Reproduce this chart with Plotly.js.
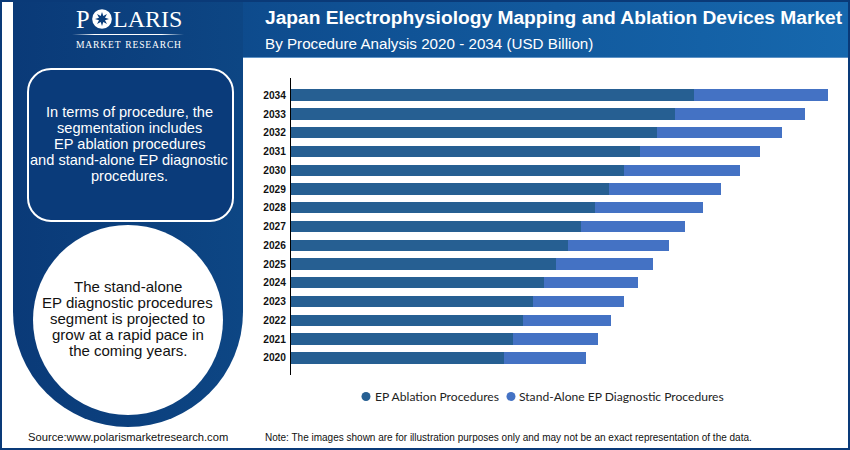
<!DOCTYPE html>
<html><head><meta charset="utf-8">
<script src="https://cdn.plot.ly/plotly-3.0.1.min.js"></script>
<style>
html,body{margin:0;padding:0;background:#fff;}
#stage{position:relative;width:850px;height:450px;overflow:hidden;background:#fff;}
#stage div.d,#stage svg{position:absolute;}
#chart{position:absolute;left:0;top:0;width:850px;height:450px;}
</style></head>
<body>
<div id="stage">
  <div class="d" style="left:0;top:0;width:846px;height:446px;border:2px solid #0a3a78;"></div>
  <div class="d" style="left:13px;top:2px;width:835px;height:56px;background:linear-gradient(90deg,#0a3d7b 0%,#0e4c8e 30%,#1668ae 100%);border-bottom:1px solid #5f93c6;box-sizing:border-box;"></div>
  <div class="d" style="left:13px;top:2px;width:230px;height:425px;background:linear-gradient(90deg,#0a3a78,#0d4684);border-radius:0 0 115px 115px;"></div>
  <div class="d" style="left:26.5px;top:67.5px;width:203px;height:150px;border:2px solid #fff;border-radius:24px;background:#0a3b7a;"></div>
  <div class="d" style="left:33px;top:225px;width:190px;height:190px;background:#fff;border-radius:50%;"></div>
  <div class="d" style="left:72px;top:34px;width:112px;height:1px;background:linear-gradient(90deg,rgba(255,255,255,0),#fff 20%,#fff 80%,rgba(255,255,255,0));"></div>
  <svg style="left:92px;top:9px;" width="20" height="20" viewBox="-10 -10 20 20">
    <circle r="9.8" fill="#fff"/>
    <polygon fill="#0a3d7b" points="0,-7 1.3,-3 5,-5 3,-1.3 7,0 3,1.3 5,5 1.3,3 0,7 -1.3,3 -5,5 -3,1.3 -7,0 -3,-1.3 -5,-5 -1.3,-3"/>
  </svg>
  <div id="chart"></div>
</div>
<script>
const years = ["2020","2021","2022","2023","2024","2025","2026","2027","2028","2029","2030","2031","2032","2033","2034"];
const ablation = [2.13,2.22,2.32,2.42,2.53,2.65,2.77,2.90,3.04,3.18,3.33,3.49,3.66,3.84,4.03];
const diagnostic = [0.815,0.845,0.875,0.91,0.94,0.97,1.01,1.04,1.075,1.12,1.16,1.20,1.245,1.295,1.34];
const titleText = "Japan Electrophysiology Mapping and Ablation Devices Market";
const subtitleText = "By Procedure Analysis 2020 - 2034 (USD Billion)";
const boxLines = ["In terms of procedure, the","segmentation includes","EP ablation procedures","and stand-alone EP diagnostic","procedures."];
const circleLines = ["The stand-alone","EP diagnostic procedures","segment is projected to","grow at a rapid pace in","the coming years."];
const seriesNames = ["EP Ablation Procedures","Stand-Alone EP Diagnostic Procedures"];
const seriesColors = ["#265f92","#4472c4"];

const L=291,R=850,T=78,B=375.5;
const px=x=>(x-L)/(R-L), py=y=>1-(y-T)/(B-T);
const note=(text,x,y,size,color,anchor,extra)=>Object.assign({text:text,x:px(x),y:py(y),xref:'paper',yref:'paper',xanchor:anchor,yanchor:'middle',showarrow:false,align:anchor,
  font:{family:'"Liberation Sans",Arial,sans-serif',size:size,color:color},borderpad:0},extra||{});
const serif=s=>({font:{family:'"Liberation Serif",serif',size:s,color:"#fff"}});
const legendFont={font:{family:'Lato,sans-serif',size:12.1,color:"#222"}};

const annotations=[
  note("<b>"+titleText+"</b>",264,17.5,19.2,"#fff","left"),
  note(subtitleText,264,43.5,15.2,"#fff","left"),
  note("P",91,19,24.5,"#fff","right",serif(24.5)),
  note("LARIS",112,19,24,"#fff","left",serif(24)),
  note("M\u200aA\u200aR\u200aK\u200aE\u200aT\u2002R\u200aE\u200aS\u200aE\u200aA\u200aR\u200aC\u200aH",128,44,10,"#fff","center",serif(9.6)),
  note("Source:www.polarismarketresearch.com",128,438,11.2,"#111","center"),
  note("Note: The images shown are for illustration purposes only and may not be an exact representation of the data.",264,438,10,"#111","left"),
  note(seriesNames[0],374,397,12.1,"#222","left",legendFont),
  note(seriesNames[1],518,397,12.1,"#222","left",legendFont)
];
boxLines.forEach((t,i)=>annotations.push(note(t,129,112+16*i,14.6,"#fff","center")));
circleLines.forEach((t,i)=>annotations.push(note(t,127.5,287+16*i,15,"#111","center")));

const circle=(cx,cy,c)=>({type:'circle',xref:'paper',yref:'paper',x0:px(cx-4.5),x1:px(cx+4.5),y0:py(cy+4.5),y1:py(cy-4.5),fillcolor:c,line:{width:0}});

const traces=[
 {type:'bar',orientation:'h',name:seriesNames[0],y:years,x:ablation,marker:{color:seriesColors[0]},showlegend:false,hoverinfo:'x+name'},
 {type:'bar',orientation:'h',name:seriesNames[1],y:years,x:diagnostic,marker:{color:seriesColors[1]},showlegend:false,hoverinfo:'x+name'}
];
const layout={
  width:850,height:450,autosize:false,
  paper_bgcolor:'rgba(0,0,0,0)',plot_bgcolor:'rgba(0,0,0,0)',
  margin:{l:L,r:850-R,t:T,b:450-B,pad:0},
  barmode:'stack',bargap:0.39,showlegend:false,
  xaxis:{range:[0,(R-L)/100],visible:false,fixedrange:true},
  yaxis:{type:'category',categoryorder:'array',categoryarray:years,range:[-0.917,14.917],showgrid:false,zeroline:false,
    showline:true,linecolor:'#000',linewidth:1,ticks:'',fixedrange:true,ticklabelstandoff:2,
    tickfont:{family:'"Liberation Sans",Arial,sans-serif',size:10.2,color:'#111',weight:700}},
  annotations:annotations,
  shapes:[circle(366,397,seriesColors[0]),circle(511,397,seriesColors[1])]
};
Plotly.newPlot('chart',traces,layout,{displayModeBar:false,staticPlot:true});
</script>
</body></html>
